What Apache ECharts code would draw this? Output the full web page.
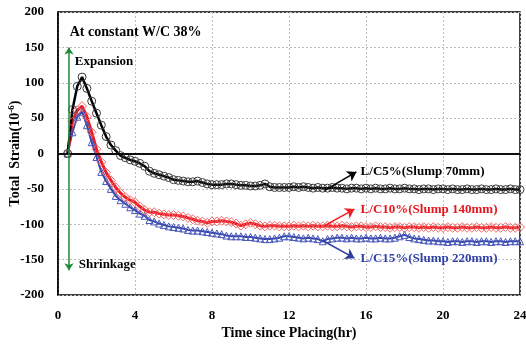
<!DOCTYPE html>
<html>
<head>
<meta charset="utf-8">
<script src="https://cdn.jsdelivr.net/npm/echarts@6/dist/echarts.min.js"></script>
<style>
html, body { margin: 0; padding: 0; background: #fff; }
#chart { width: 526px; height: 344px; }
</style>
</head>
<body>
<div id="chart"></div>
<script>
// time since placing (hr)
var hours = [0.5, 0.75,
    1, 1.25, 1.5, 1.75, 2, 2.25, 2.5, 2.75, 3, 3.25, 3.5, 3.75,
    4, 4.25, 4.5, 4.75, 5, 5.25, 5.5, 5.75, 6, 6.25, 6.5, 6.75,
    7, 7.25, 7.5, 7.75, 8, 8.25, 8.5, 8.75, 9, 9.25, 9.5, 9.75,
    10, 10.25, 10.5, 10.75, 11, 11.25, 11.5, 11.75, 12, 12.25, 12.5, 12.75,
    13, 13.25, 13.5, 13.75, 14, 14.25, 14.5, 14.75, 15, 15.25, 15.5, 15.75,
    16, 16.25, 16.5, 16.75, 17, 17.25, 17.5, 17.75, 18, 18.25, 18.5, 18.75,
    19, 19.25, 19.5, 19.75, 20, 20.25, 20.5, 20.75, 21, 21.25, 21.5, 21.75,
    22, 22.25, 22.5, 22.75, 23, 23.25, 23.5, 23.75, 24];

// total strain (10^-6)
var lc5 = [0, 62,
    95, 108, 92, 74, 57, 40, 24, 12, 4, -3, -6, -9,
    -11, -14, -18, -25, -28, -30, -32, -34, -37, -38, -39, -40,
    -40, -39, -41, -43, -44, -44, -44, -43, -43, -44, -45, -45,
    -46, -46, -45, -43, -47, -48, -48, -48, -48, -47, -48, -47,
    -48, -49, -48, -49, -49, -48, -49, -49, -50, -49, -49, -50,
    -49, -50, -49, -50, -50, -49, -50, -50, -49, -50, -50, -51,
    -50, -50, -51, -50, -50, -51, -50, -51, -51, -50, -51, -51,
    -50, -51, -51, -50, -51, -51, -50, -51, -51];

var lc10 = [0, 45,
    61, 67, 52, 30, 6, -12, -27, -38, -48, -56, -62, -66,
    -69, -75, -80, -83, -83, -85, -86, -87, -87, -88, -89, -91,
    -93, -95, -96, -98, -96, -96, -95, -96, -97, -99, -102, -100,
    -98, -100, -102, -103, -102, -102, -103, -103, -103, -102, -103, -102,
    -103, -102, -103, -103, -102, -103, -103, -102, -103, -104, -103, -103,
    -104, -104, -103, -104, -104, -105, -104, -104, -105, -104, -104, -105,
    -104, -105, -104, -105, -105, -104, -105, -105, -104, -105, -105, -104,
    -105, -105, -104, -105, -105, -104, -105, -105, -104];

var lc15 = [0, 30,
    52, 59, 40, 16, -5, -26, -39, -50, -60, -66, -71, -76,
    -80, -85, -88, -94, -96, -99, -101, -103, -104, -105, -106, -108,
    -109, -109, -110, -111, -112, -113, -114, -116, -117, -117, -117, -118,
    -118, -119, -120, -121, -121, -120, -119, -117, -117, -118, -119, -120,
    -119, -120, -121, -124, -121, -120, -119, -119, -120, -119, -120, -120,
    -119, -120, -120, -119, -120, -120, -119, -117, -115, -118, -120, -121,
    -122, -123, -123, -124, -124, -125, -124, -124, -125, -124, -124, -125,
    -124, -124, -125, -124, -124, -125, -124, -124, -124];

var seriesNames = ['L/C5%(Slump 70mm)', 'L/C10%(Slump 140mm)', 'L/C15%(Slump 220mm)'];
var xTicks = [0, 4, 8, 12, 16, 20, 24];
var yTicks = [-200, -150, -100, -50, 0, 50, 100, 150, 200];

var FONT = '"Liberation Serif", "Times New Roman", serif';

function pairs(vals) {
    return hours.map(function (h, i) { return [h, vals[i]]; });
}

var myChart = echarts.init(document.getElementById('chart'));

var option = {
    animation: false,
    grid: {
        left: 58, right: 6, top: 12, bottom: 49,
        outerBoundsMode: 'none', containLabel: false,
        show: true, borderColor: '#000', borderWidth: 1.5
    },
    xAxis: {
        type: 'value',
        min: xTicks[0], max: xTicks[xTicks.length - 1], interval: 4,
        name: 'Time since Placing(hr)',
        nameLocation: 'middle', nameGap: 31, nameMoveOverlap: false,
        nameTextStyle: { fontFamily: FONT, fontWeight: 'bold', fontSize: 14, color: '#000' },
        axisLine: { lineStyle: { color: '#000', width: 1.5 } },
        axisTick: { show: false },
        axisLabel: { fontFamily: FONT, fontWeight: 'bold', fontSize: 13, color: '#000', margin: 14 },
        splitLine: { lineStyle: { color: '#bdbdbd', type: [2, 2], width: 1 } }
    },
    yAxis: {
        type: 'value',
        min: yTicks[0], max: yTicks[yTicks.length - 1], interval: 50,
        name: 'Total  Strain(10{sup|-6})',
        nameLocation: 'middle', nameGap: 35, nameRotate: 90, nameMoveOverlap: false,
        nameTextStyle: {
            fontFamily: FONT, fontWeight: 'bold', fontSize: 14, color: '#000',
            rich: { sup: { fontFamily: FONT, fontWeight: 'bold', fontSize: 9, color: '#000', verticalAlign: 'top', padding: [0, 0, 7, 0] } }
        },
        axisLine: { lineStyle: { color: '#000', width: 1.5 } },
        axisTick: { show: false },
        axisLabel: { fontFamily: FONT, fontWeight: 'bold', fontSize: 13, color: '#000', margin: 14 },
        splitLine: { lineStyle: { color: '#bdbdbd', type: [2, 2], width: 1 } }
    },
    series: [
        {
            // zero line
            type: 'line', data: [], silent: true, z: 1,
            markLine: {
                silent: true, symbol: 'none',
                label: { show: false },
                lineStyle: { color: '#000', width: 1.5, type: 'solid' },
                data: [{ yAxis: 0 }]
            }
        },
        {
            // green expansion / shrinkage arrow
            type: 'line', data: [], silent: true, z: 1,
            markLine: {
                silent: true, symbol: ['arrow', 'arrow'], symbolSize: 7,
                label: { show: false },
                lineStyle: { color: '#1b8a36', width: 1.5, type: 'solid' },
                data: [[{ coord: [0.57, 150] }, { coord: [0.57, -165] }]]
            }
        },
        {
            name: seriesNames[2], type: 'line', data: pairs(lc15),
            symbol: 'triangle', symbolSize: 7, showAllSymbol: true,
            lineStyle: { color: '#3545a8', width: 2 },
            itemStyle: { color: 'rgba(0,0,0,0)', borderColor: '#4858bc', borderWidth: 1 },
            markLine: {
                silent: true, symbol: ['none', 'arrow'], symbolSize: 9,
                label: { show: false },
                lineStyle: { color: '#2e3f9e', width: 1.5, type: 'solid' },
                data: [[{ coord: [13.75, -123] }, { coord: [15.4, -148] }]]
            }
        },
        {
            name: seriesNames[1], type: 'line', data: pairs(lc10),
            symbol: 'diamond', symbolSize: 9, showAllSymbol: true,
            lineStyle: { color: '#ee1c24', width: 3 },
            itemStyle: { color: 'rgba(0,0,0,0)', borderColor: '#f26a6a', borderWidth: 1 },
            markLine: {
                silent: true, symbol: ['none', 'arrow'], symbolSize: 9,
                label: { show: false },
                lineStyle: { color: '#ee1c24', width: 1.5, type: 'solid' },
                data: [[{ coord: [13.85, -102] }, { coord: [15.4, -78.5] }]]
            }
        },
        {
            name: seriesNames[0], type: 'line', data: pairs(lc5),
            symbol: 'circle', symbolSize: 8, showAllSymbol: true,
            lineStyle: { color: '#000', width: 2.5 },
            itemStyle: { color: 'rgba(0,0,0,0)', borderColor: '#3a3a3a', borderWidth: 1 },
            markLine: {
                silent: true, symbol: ['none', 'arrow'], symbolSize: 9,
                label: { show: false },
                lineStyle: { color: '#000', width: 1.5, type: 'solid' },
                data: [[{ coord: [13.85, -52] }, { coord: [15.5, -26] }]]
            }
        }
    ]
};

myChart.setOption(option);

// text annotations placed in data coordinates
var notes = [
    { text: 'At constant W/C 38%', at: [0.61, 171], size: 14, color: '#000' },
    { text: 'Expansion', at: [0.87, 129.5], size: 13, color: '#000' },
    { text: 'Shrinkage', at: [1.08, -157], size: 13, color: '#000' },
    { text: seriesNames[0], at: [15.72, -25.7], size: 13, color: '#000' },
    { text: seriesNames[1], at: [15.72, -78.7], size: 13, color: '#e8141c' },
    { text: seriesNames[2], at: [15.72, -148], size: 13, color: '#2e3fa8' }
];

var graphics = notes.map(function (n) {
    var p = myChart.convertToPixel({ gridIndex: 0 }, n.at);
    return {
        type: 'text', x: p[0], y: p[1], z: 100,
        style: {
            text: n.text, fill: n.color, font: 'bold ' + n.size + 'px ' + FONT,
            textAlign: 'left', textVerticalAlign: 'middle'
        }
    };
});
myChart.setOption({ graphic: graphics });
</script>
</body>
</html>
